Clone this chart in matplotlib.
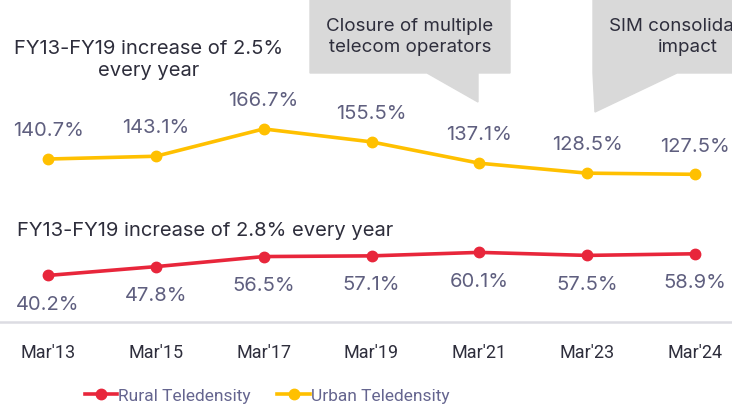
import matplotlib.pyplot as plt
from matplotlib.patches import Polygon

periods = ["Mar'13", "Mar'15", "Mar'17", "Mar'19", "Mar'21", "Mar'23", "Mar'24"]
urban = [140.7, 143.1, 166.7, 155.5, 137.1, 128.5, 127.5]
rural = [40.2, 47.8, 56.5, 57.1, 60.1, 57.5, 58.9]

plt.rcParams['font.family'] = ['Inter', 'DejaVu Sans']
narrow = ['Roboto', 'DejaVu Sans']

W, H = 732, 408
fig = plt.figure(figsize=(W / 100, H / 100), dpi=100)
ax = fig.add_axes([0, 86 / H, 1, 1 - 86 / H])

x = list(range(len(periods)))
red = '#E8263B'
yellow = '#FFC000'
lab_col = '#5F5F7F'
dark = '#2E2E3C'

ax.plot(x, rural, color=red, lw=2.6, marker='o', ms=7.5, label='Rural Teledensity', zorder=3)
ax.plot(x, urban, color=yellow, lw=2.6, marker='o', ms=7.5, label='Urban Teledensity', zorder=3)

for xi, v in zip(x, urban):
    ax.annotate(f"{v}%", (xi, v), xytext=(0, 20), textcoords='offset points',
                ha='center', va='center', fontsize=14.5, color=lab_col)
for xi, v in zip(x, rural):
    ax.annotate(f"{v}%", (xi, v), xytext=(0, -21), textcoords='offset points',
                ha='center', va='center', fontsize=14.5, color=lab_col)

ax.set_xlim(-48 / 107.8, 6 + 37 / 107.8)
ax.set_ylim(0, 278)
ax.set_xticks(x)
ax.set_xticklabels(periods, fontsize=13, color=dark, family=narrow)
ax.tick_params(axis='x', length=0, pad=16)
ax.set_yticks([])
for s in ['top', 'left', 'right']:
    ax.spines[s].set_visible(False)
ax.spines['bottom'].set_color('#DCDCE2')
ax.spines['bottom'].set_linewidth(1.8)

# growth notes
fig.text(149 / W, 1 - 60 / H, "FY13-FY19 increase of 2.5%\nevery year", ha='center', va='center',
         fontsize=14.5, color=dark, linespacing=1.3)
fig.text(17 / W, 1 - 231 / H, "FY13-FY19 increase of 2.8% every year", ha='left', va='center',
         fontsize=14.5, color=dark)

# callouts
def px(pts):
    return [(a / W, 1 - b / H) for a, b in pts]

grey = '#D9D9D9'
fig.patches.append(Polygon(px([(310, 0), (510, 0), (510, 73), (478, 73), (478, 102), (427, 73), (310, 73)]),
                           closed=True, transform=fig.transFigure, color=grey, zorder=1))
fig.patches.append(Polygon(px([(593, 0), (740, 0), (740, 73), (677, 73), (595, 112), (593, 73)]),
                           closed=True, transform=fig.transFigure, color=grey, zorder=1))
fig.text(410 / W, 1 - 37 / H, "Closure of multiple\ntelecom operators", ha='center', va='center',
         fontsize=13.5, color=dark, linespacing=1.3)
fig.text(688 / W, 1 - 37 / H, "SIM consolidation\nimpact", ha='center', va='center',
         fontsize=13.5, color=dark, linespacing=1.3)

leg = fig.legend(loc='center', bbox_to_anchor=(267 / W, 1 - 396 / H), ncol=2, frameon=False,
                 prop={'family': narrow, 'size': 12.5}, handlelength=1.9, handletextpad=0.05,
                 columnspacing=1.5)
for t in leg.get_texts():
    t.set_color('#65658F')

fig.savefig('out.png', dpi=100)
